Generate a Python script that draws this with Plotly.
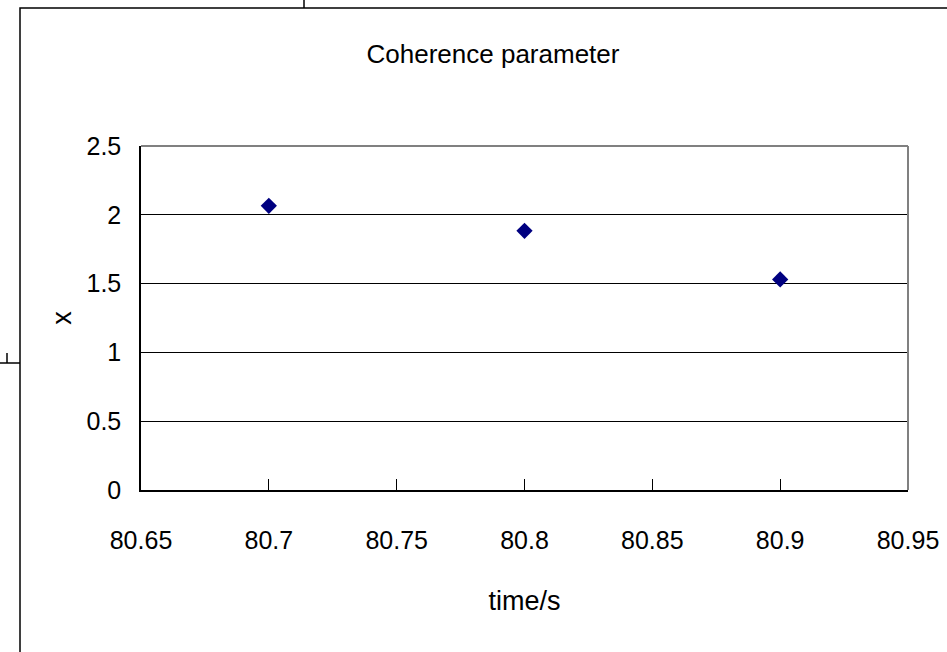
import plotly.graph_objects as go

# Data
times = [80.7, 80.8, 80.9]
x_values = [2.065, 1.884, 1.53]
x_ticks = [80.65, 80.7, 80.75, 80.8, 80.85, 80.9, 80.95]
x_tick_labels = ["80.65", "80.7", "80.75", "80.8", "80.85", "80.9", "80.95"]
y_ticks = [0, 0.5, 1, 1.5, 2, 2.5]
y_tick_labels = ["0", "0.5", "1", "1.5", "2", "2.5"]

W, H = 947, 652
L, R, T, B = 141, 908, 146, 490
FONT = "Liberation Sans Narrow, Arial Narrow, Liberation Sans, Arial, sans-serif"

def px(xp):
    return (xp - L) / (R - L)

def py(yp):
    return (B - yp) / (B - T)

fig = go.Figure()
fig.add_trace(go.Scatter(
    x=times, y=x_values, mode="markers",
    marker=dict(symbol="diamond", size=12.5, color="#000080",
                line=dict(width=0)),
    showlegend=False, hoverinfo="x+y",
))

fig.update_layout(
    width=W, height=H,
    margin=dict(l=L, r=W - R, t=T, b=H - B, autoexpand=False),
    paper_bgcolor="white", plot_bgcolor="white",
    font=dict(family=FONT, color="black", size=25),
    title=dict(text="Coherence parameter", x=px(493), xref="paper",
               xanchor="center", y=1 - 54 / H, yanchor="middle",
               font=dict(family=FONT, size=26, color="black")),
    xaxis=dict(range=[80.65, 80.95], tickvals=x_ticks, ticktext=x_tick_labels,
               automargin=False,
               showgrid=False, zeroline=False, showline=True,
               linecolor="black", linewidth=1.5, ticks="inside", ticklen=11,
               tickcolor="black", tickwidth=1, ticklabelstandoff=27,
               tickfont=dict(family=FONT, size=25),
               title=dict(text="time/s", standoff=38,
                          font=dict(family=FONT, size=27))),
    yaxis=dict(range=[0, 2.5], tickvals=y_ticks, ticktext=y_tick_labels,
               automargin=False,
               showgrid=True, gridcolor="black", gridwidth=1,
               zeroline=False, showline=True, linecolor="black", linewidth=1.5,
               ticks="inside", ticklen=7, tickcolor="black",
               ticklabelstandoff=13,
               tickfont=dict(family=FONT, size=25),
               title=dict(text="x", standoff=7,
                          font=dict(family=FONT, size=27))),
    shapes=[
        # outer frame
        dict(type="rect", xref="paper", yref="paper",
             x0=px(20), x1=px(960), y0=py(670), y1=py(8),
             line=dict(color="black", width=1.5), layer="below"),
        # plot border top/right (gray)
        dict(type="line", xref="paper", yref="paper", x0=0, x1=1, y0=1, y1=1,
             line=dict(color="#808080", width=2)),
        dict(type="line", xref="paper", yref="paper", x0=1, x1=1, y0=0, y1=1,
             line=dict(color="#808080", width=2)),
        # small marks outside the frame
        dict(type="line", xref="paper", yref="paper",
             x0=px(304), x1=px(304), y0=py(0), y1=py(8),
             line=dict(color="black", width=1.5)),
        dict(type="line", xref="paper", yref="paper",
             x0=px(0), x1=px(20), y0=py(363), y1=py(363),
             line=dict(color="black", width=1.5)),
        dict(type="line", xref="paper", yref="paper",
             x0=px(7), x1=px(7), y0=py(353), y1=py(363),
             line=dict(color="black", width=1.5)),
    ],
)

fig.write_html("out.html", config={"displayModeBar": False},
               post_script="document.body.style.margin='0px';")
